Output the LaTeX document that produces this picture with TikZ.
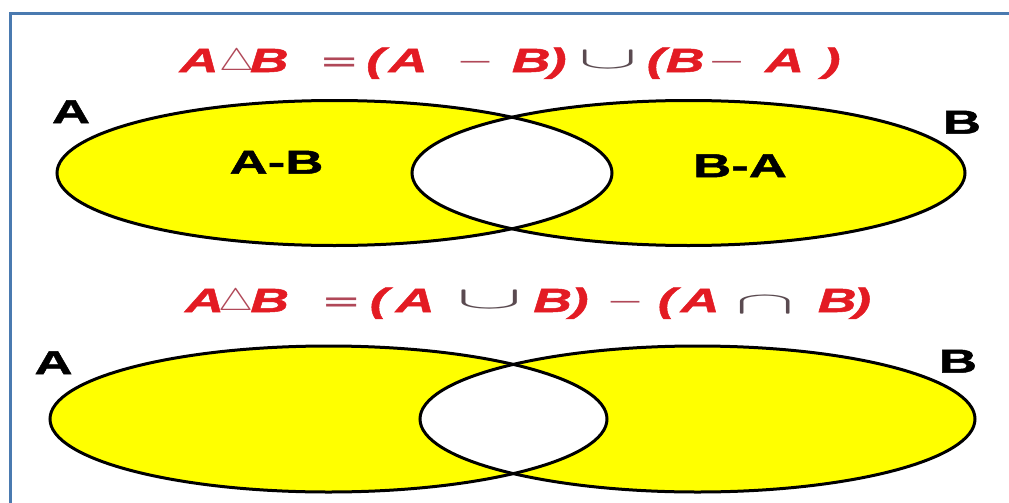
\documentclass[tikz,border=0pt]{standalone}
\usepackage{fontspec}
\usepackage{graphicx}
\setmainfont{Liberation Sans}
\newfontfamily\lettf{Liberation Sans}[FakeStretch=1.6, FakeBold=1.5]
\newfontfamily\symf{DejaVu Sans}
\definecolor{fred}{HTML}{E31B23}
\definecolor{fsym}{HTML}{B04858}
\definecolor{fop}{HTML}{5A4A50}
\definecolor{framec}{HTML}{4A7AB0}
\definecolor{vyellow}{HTML}{FFFF00}
% letter centred at offset #1 (pt) from the node's left edge
\newcommand{\lc}[2]{\rlap{\hspace*{#1pt}\makebox[0pt][c]{\lettf\bfseries\itshape\color{fred}#2}}}
% text symbol centred at offset #1, x-scale #2, y-scale #3, raise #4, colour #5, glyph #6
\newcommand{\symc}[6]{\rlap{\hspace*{#1pt}\makebox[0pt][c]{\raisebox{#4pt}{\symf\fontsize{20}{24}\selectfont\color{#5}\scalebox{#2}[#3]{#6}}}}}
% math symbol centred at offset #1, x-scale #2, y-scale #3, raise #4, colour #5, symbol #6
\newcommand{\msymc}[6]{\rlap{\hspace*{#1pt}\makebox[0pt][c]{\raisebox{#4pt}{\fontsize{20}{20}\selectfont\color{#5}\scalebox{#2}[#3]{$#6$}}}}}
\tikzset{
  formula/.style={inner sep=0pt, anchor=base west, font=\fontsize{33.5}{40}\selectfont},
  namelabel/.style={inner sep=0pt, text=black, font=\lettf\fontsize{33}{40}\selectfont\bfseries, text height=0.716em, text depth=0pt},
  outl/.style={draw=black, line width=3pt},
  setfill/.style={fill=vyellow},
}
\begin{document}
\begin{tikzpicture}[x=1pt,y=-1pt]
\useasboundingbox (0,0) rectangle (1009,503);
\draw[framec, line width=3pt] (10,503) -- (10,14) -- (1009,14);
% top diagram
\fill[setfill] (334.5,173) ellipse [x radius=277.5, y radius=72.5];
\fill[setfill] (688.5,173) ellipse [x radius=276.5, y radius=72.5];
\begin{scope}
  \clip (334.5,173) ellipse [x radius=277.5, y radius=72.5];
  \fill[white] (688.5,173) ellipse [x radius=276.5, y radius=72.5];
\end{scope}
\draw[outl] (334.5,173) ellipse [x radius=277.5, y radius=72.5];
\draw[outl] (688.5,173) ellipse [x radius=276.5, y radius=72.5];
% bottom diagram
\fill[setfill] (328.5,419) ellipse [x radius=278.5, y radius=73];
\fill[setfill] (697.5,419) ellipse [x radius=277.5, y radius=73];
\begin{scope}
  \clip (328.5,419) ellipse [x radius=278.5, y radius=73];
  \fill[white] (697.5,419) ellipse [x radius=277.5, y radius=73];
\end{scope}
\draw[outl] (328.5,419) ellipse [x radius=278.5, y radius=73];
\draw[outl] (697.5,419) ellipse [x radius=277.5, y radius=73];
% formula 1 (left edge at x=182, baseline y=72)
\node[formula] (f1) at (182,72) {%
  \lc{17}{A}\msymc{55}{1.9}{1.5}{1.5}{fsym}{\triangle}\lc{87}{B}%
  \symc{157}{2.4}{1.6}{0}{fsym}{=}%
  \lc{193}{(}\lc{226}{A}\symc{293}{2.3}{1}{4}{fsym}{−}%
  \lc{349}{B}\lc{375.5}{)}\msymc{426}{4.3}{1.5}{4}{fop}{\cup}%
  \lc{473.5}{(}\lc{503}{B}\symc{544.5}{2.3}{1}{4}{fsym}{−}%
  \lc{602.5}{A}\lc{649.5}{)}\hspace*{661pt}};
% formula 2 (left edge at x=182, baseline y=312)
\node[formula] (f2) at (182,312) {%
  \lc{22.5}{A}\msymc{54}{1.9}{1.5}{1.5}{fsym}{\triangle}\lc{87.5}{B}%
  \symc{159}{2.4}{1.6}{0}{fsym}{=}%
  \lc{196.5}{(}\lc{233}{A}\msymc{307.5}{4.8}{1.5}{4}{fop}{\cup}%
  \lc{370.5}{B}\lc{397.5}{)}\symc{443}{2.3}{1}{4}{fsym}{−}%
  \lc{484.5}{(}\lc{518}{A}\msymc{583}{4.3}{1.5}{-1}{fop}{\cap}%
  \lc{655}{B}\lc{680}{)}\hspace*{690pt}};
% labels
\node[namelabel] (lA1) at (71,119.5) {A};
\node[namelabel] (lB1) at (962,130) {B};
\node[namelabel] (AB) at (276.5,170) {A-B};
\node[namelabel] (BA) at (740,173.5) {B-A};
\node[namelabel] (lA2) at (53.5,370.5) {A};
\node[namelabel] (lB2) at (958,369) {B};
\end{tikzpicture}
\end{document}
